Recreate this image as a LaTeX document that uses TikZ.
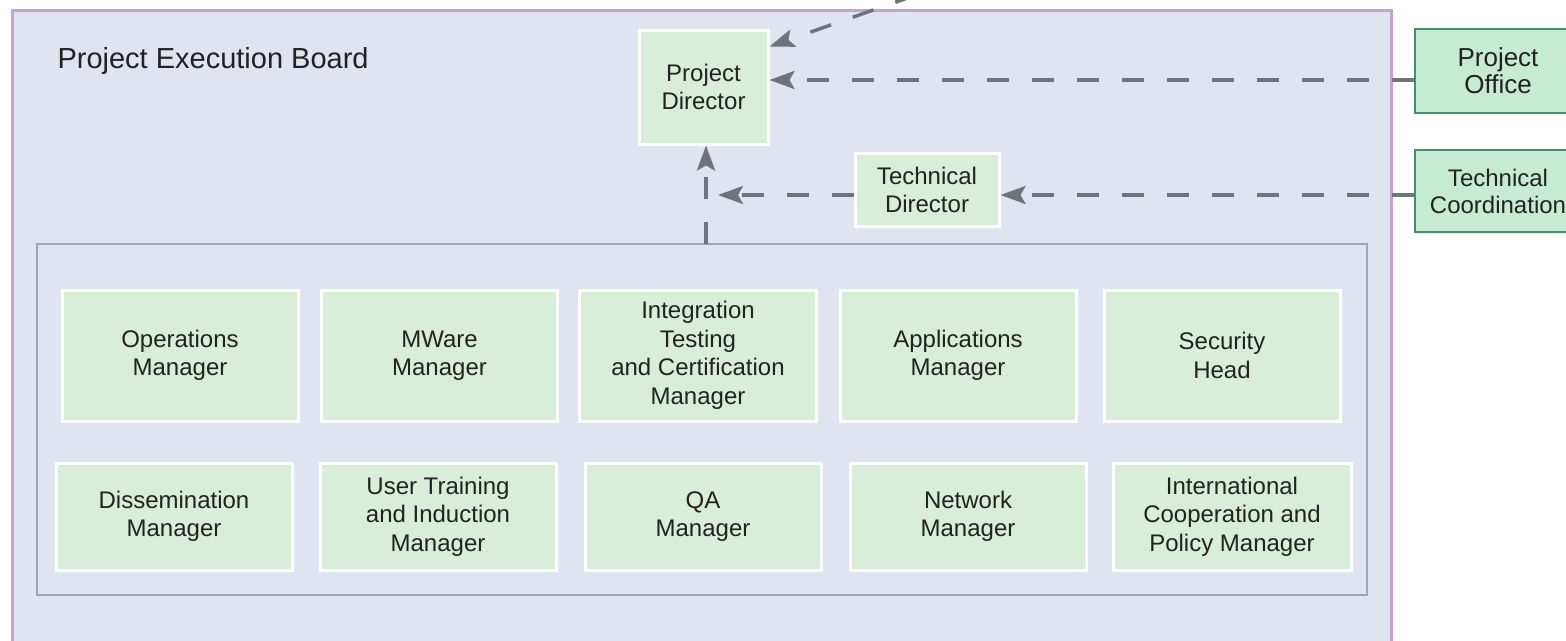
\documentclass[tikz,border=0pt]{standalone}
\usepackage{fontspec}
\setmainfont{Liberation Sans}
\usetikzlibrary{arrows.meta}
\definecolor{outerfill}{HTML}{E0E4F0}
\definecolor{outerline}{HTML}{C4A2D4}
\definecolor{innerline}{HTML}{9EA6B0}
\definecolor{mgrfill}{HTML}{D8EED8}
\definecolor{extfill}{HTML}{C6EAD2}
\definecolor{extline}{HTML}{3E9464}
\definecolor{arrowgray}{HTML}{6E747C}
\definecolor{txt}{HTML}{222222}
\begin{document}
\begin{tikzpicture}[x=1pt,y=-1pt,
  board/.style={draw=outerline, line width=3pt, fill=outerfill, inner sep=0pt},
  innerbox/.style={draw=innerline, line width=2pt, fill=outerfill, inner sep=0pt},
  mgr/.style={draw=white, line width=3pt, fill=mgrfill, inner sep=0pt, align=center,
    text=txt, font=\fontsize{24}{28.5}\selectfont},
  ext/.style={draw=extline, line width=2.5pt, fill=extfill, inner sep=0pt, align=center,
    text=txt, font=\fontsize{26}{27}\selectfont},
  conn/.style={draw=arrowgray, line width=3.5pt, dash pattern=on 22pt off 23pt,
    -{Stealth[length=25pt,width=18pt,inset=5pt]}}]
\useasboundingbox[fill=white] (0,0) rectangle (1566,640);

% outer board
\node[board, minimum width=1379, minimum height=660] (board) at (701.5,340) {};
\node[anchor=base west, text=txt, font=\fontsize{29}{32}\selectfont] (title) at (54,68) {Project Execution Board};

% inner group
\node[innerbox, minimum width=1330, minimum height=351] (inner) at (702,419.5) {};

% row 1
\node[mgr, minimum width=236, minimum height=131] (ops) at (180,355.5) {Operations\\Manager};
\node[mgr, minimum width=236, minimum height=131] (mw) at (439.5,355.5) {MWare\\Manager};
\node[mgr, minimum width=237, minimum height=131] (itc) at (698,355.5) {Integration\\Testing\\and Certification\\Manager};
\node[mgr, minimum width=236, minimum height=131] (app) at (958,355.5) {Applications\\Manager};
\node[mgr, minimum width=236, minimum height=131] (sec) at (1222,355.5) {Security\\Head};

% row 2
\node[mgr, minimum width=236, minimum height=107] (dis) at (174,516.5) {Dissemination\\Manager};
\node[mgr, minimum width=236, minimum height=107] (uti) at (438,516.5) {User Training\\and Induction\\Manager};
\node[mgr, minimum width=236, minimum height=107] (qa) at (703,516.5) {QA\\Manager};
\node[mgr, minimum width=236, minimum height=107] (net) at (968,516.5) {Network\\Manager};
\node[mgr, minimum width=238, minimum height=107] (icp) at (1232,516.5) {International\\Cooperation and\\Policy Manager};

% directors
\node[mgr, minimum width=129, minimum height=114] (pd) at (703.5,87) {Project\\Director};
\node[mgr, minimum width=144, minimum height=73] (td) at (927,190) {Technical\\Director};

% external boxes
\node[ext, minimum width=166, minimum height=84] (po) at (1498,71) {Project\\Office};
\node[ext, minimum width=166, minimum height=82, font=\fontsize{24}{27}\selectfont] (tc) at (1498,191) {Technical\\Coordination};

% connectors
\coordinate (top) at (916,-5);
\coordinate (vstart) at (706,244);
\coordinate (vjoin) at (718,195);

\draw[conn] (top) -- ([yshift=-18pt]pd.north east);
\draw[conn] (po.west |- 0,80) -- (pd.east |- 0,80);
\draw[conn] (tc.west |- 0,195) -- (td.east |- 0,195);
\draw[conn] (td.west |- 0,195) -- (vjoin);
\draw[conn] (vstart) -- (vstart |- pd.south);
\end{tikzpicture}
\end{document}
